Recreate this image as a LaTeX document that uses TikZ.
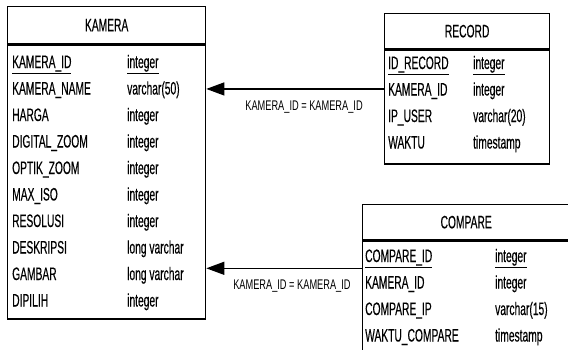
\documentclass[tikz,border=0pt]{standalone}
\usepackage{fontspec}
\setmainfont[FakeStretch=0.57, FakeBold=0.3]{Liberation Sans}
\newfontfamily\relfont[FakeStretch=0.66]{Liberation Sans}
\usetikzlibrary{arrows.meta,positioning}

\begin{document}
\begin{tikzpicture}[x=1pt, y=-1pt,
  tblhead/.style={draw, line width=1.3pt, anchor=north west, inner sep=0pt, font=\fontsize{18}{21}\selectfont},
  tblbody/.style={draw, line width=1.3pt, inner sep=0pt},
  colname/.style={anchor=base west, inner sep=0pt, font=\fontsize{18}{21}\selectfont},
  fk/.style={-{Triangle[length=18pt, width=13pt]}, line width=1.3pt},
  fklabel/.style={font=\relfont\fontsize{14}{16}\selectfont, inner sep=0pt}
]
\useasboundingbox (0,0) rectangle (568,349);

% KAMERA
\node[tblhead, minimum width=198pt, minimum height=37pt] (kamerahead) at (7,6) {KAMERA};
\node[tblbody, minimum width=198pt, minimum height=274pt, below=0pt of kamerahead] (kamerabody) {};
\foreach \n/\t [count=\i from 0] in {\underline{KAMERA\_ID}/\underline{integer}, KAMERA\_NAME/varchar(50), HARGA/integer, DIGITAL\_ZOOM/integer, OPTIK\_ZOOM/integer, MAX\_ISO/integer, RESOLUSI/integer, DESKRIPSI/long varchar, GAMBAR/long varchar, DIPILIH/integer}{
  \node[colname] (kamera-n\i) at (12, 68+26.5*\i) {\n};
  \node[colname] (kamera-t\i) at (127, 68+26.5*\i) {\t};
}

% RECORD
\node[tblhead, minimum width=165pt, minimum height=35pt] (recordhead) at (384,13) {RECORD};
\node[tblbody, minimum width=165pt, minimum height=114pt, below=0pt of recordhead] (recordbody) {};
\foreach \n/\t [count=\i from 0] in {\underline{ID\_RECORD}/\underline{integer}, KAMERA\_ID/integer, IP\_USER/varchar(20), WAKTU/timestamp}{
  \node[colname] (record-n\i) at (388, 69+26.5*\i) {\n};
  \node[colname] (record-t\i) at (473, 69+26.5*\i) {\t};
}

% COMPARE (runs off the page)
\node[tblhead, minimum width=207pt, minimum height=35pt] (comparehead) at (362,204) {COMPARE};
\node[tblbody, minimum width=207pt, minimum height=121pt, below=0pt of comparehead] (comparebody) {};
\foreach \n/\t [count=\i from 0] in {\underline{COMPARE\_ID}/\underline{integer}, KAMERA\_ID/integer, COMPARE\_IP/varchar(15), WAKTU\_COMPARE/timestamp}{
  \node[colname] (compare-n\i) at (365, 262+26.5*\i) {\n};
  \node[colname] (compare-t\i) at (495, 262+26.5*\i) {\t};
}

% references
\coordinate (fkrecord) at ([yshift=18pt]recordbody.west);
\coordinate (fkcompare) at ([yshift=-28pt]comparehead.south west);
\draw[fk] (fkrecord) -- (fkrecord -| kamerabody.east)
  node[fklabel, pos=0.45, yshift=-18pt] (lblrecord) {KAMERA\_ID = KAMERA\_ID};
\draw[fk] (fkcompare) -- (fkcompare -| kamerabody.east)
  node[fklabel, pos=0.45, yshift=-18pt] (lblcompare) {KAMERA\_ID = KAMERA\_ID};
\end{tikzpicture}
\end{document}
